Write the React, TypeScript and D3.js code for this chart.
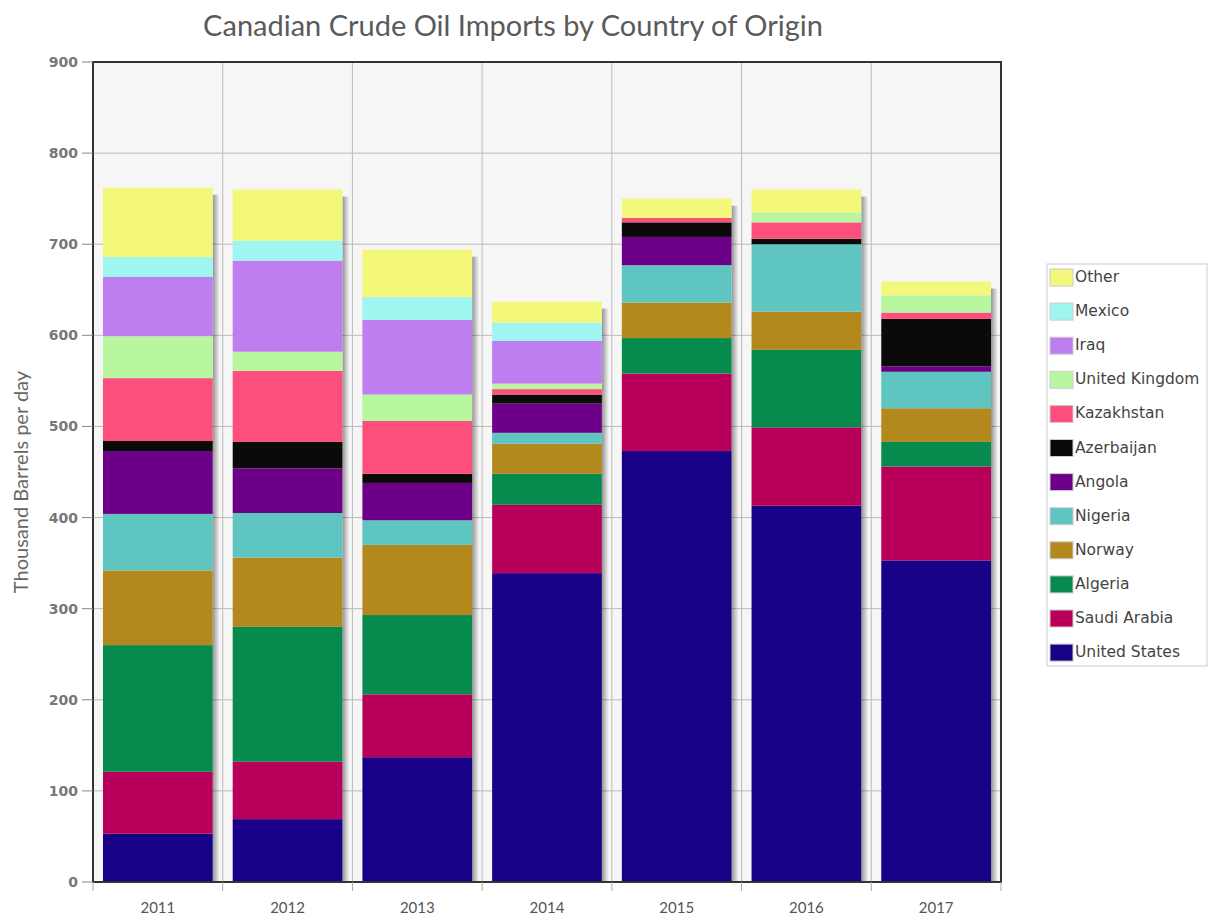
import React from "react";
import * as d3 from "d3";

const years = ["2011", "2012", "2013", "2014", "2015", "2016", "2017"];
// bottom to top stacking order
const countries = [
  "United States",
  "Saudi Arabia",
  "Algeria",
  "Norway",
  "Nigeria",
  "Angola",
  "Azerbaijan",
  "Kazakhstan",
  "United Kingdom",
  "Iraq",
  "Mexico",
  "Other",
];
const unitedStates = [53, 69, 137, 339, 473, 413, 353];
const saudiArabia = [68, 63, 69, 75, 85, 86, 103];
const algeria = [139, 148, 87, 34, 39, 85, 27];
const norway = [82, 76, 77, 33, 39, 42, 37];
const nigeria = [62, 49, 27, 12, 41, 74, 40];
const angola = [69, 49, 41, 32, 31, 0, 6];
const azerbaijan = [11, 29, 10, 10, 16, 6, 52];
const kazakhstan = [69, 78, 58, 6, 5, 18, 7];
const unitedKingdom = [46, 21, 29, 6, 0, 11, 19];
const iraq = [65, 100, 82, 47, 0, 0, 0];
const mexico = [22, 22, 25, 20, 0, 0, 0];
const other = [76, 56, 52, 23, 21, 25, 15];
const yTicks = [0, 100, 200, 300, 400, 500, 600, 700, 800, 900];

const seriesValues = [
  unitedStates, saudiArabia, algeria, norway, nigeria, angola,
  azerbaijan, kazakhstan, unitedKingdom, iraq, mexico, other,
];
const colors = [
  "#180087", "#b8005a", "#078a4e", "#b3891e", "#5ec5c0", "#6d0088",
  "#0a0a0a", "#fd4f7b", "#b8f7a0", "#bf7ef0", "#9ff5f0", "#f3f77a",
];

const rows = years.map((y, i) => {
  const r: Record<string, number | string> = { year: y };
  countries.forEach((c, k) => (r[c] = seriesValues[k][i]));
  return r;
});

const W = 1213, H = 917;
const left = 93, right = 1001, top = 62, bottom = 882;

export default function App() {
  const x = d3.scaleBand<string>().domain(years).range([left, right])
    .paddingInner(0.154).paddingOuter(0.077);
  const y = d3.scaleLinear().domain([0, 900]).range([bottom, top]);
  const stack = d3.stack<any>().keys(countries)(rows as any);
  const step = x.step();
  const bounds = d3.range(years.length + 1).map((i) => left + i * step);
  const totals = years.map((_, i) => d3.sum(seriesValues, (s) => s[i]));

  const gray = "#666";
  return (
    <div style={{ position: "absolute", left: 0, top: 0 }}>
      <svg width={W} height={H} style={{ background: "#fff" }}>
        <defs>
          <linearGradient id="shadow" x1="0" x2="1" y1="0" y2="0">
            <stop offset="0" stopColor="#000" stopOpacity={0.4} />
            <stop offset="1" stopColor="#000" stopOpacity={0} />
          </linearGradient>
        </defs>
        <text x={513} y={36} textAnchor="middle" fontFamily="Lato, sans-serif"
          fontSize={29} fill="#5a5a5a">
          Canadian Crude Oil Imports by Country of Origin
        </text>

        {/* plot background and grid */}
        <rect x={left} y={top} width={right - left} height={bottom - top} fill="#f6f6f6" />
        {yTicks.map((t) => (
          <line key={t} x1={left} x2={right} y1={y(t)} y2={y(t)} stroke="#bbb" />
        ))}
        {bounds.slice(1, -1).map((b) => (
          <line key={b} x1={b} x2={b} y1={top} y2={bottom} stroke="#bbb" />
        ))}

        {/* bar shadows */}
        {years.map((yr, i) => (
          <rect key={yr} x={x(yr)! + x.bandwidth()} y={y(totals[i]) + 7}
            width={7} height={bottom - y(totals[i]) - 7} fill="url(#shadow)" />
        ))}

        {/* stacked bars */}
        {stack.map((layer, k) => (
          <g key={countries[k]} fill={colors[k]}>
            {layer.map((d, i) => (
              <rect key={i} x={x(years[i])} y={y(d[1])}
                width={x.bandwidth()} height={Math.max(0, y(d[0]) - y(d[1]))} />
            ))}
          </g>
        ))}

        {/* frame */}
        <rect x={left} y={top} width={right - left} height={bottom - top}
          fill="none" stroke="#333" strokeWidth={2} />

        {/* y axis */}
        {yTicks.map((t) => (
          <g key={t}>
            <line x1={82} x2={left} y1={y(t)} y2={y(t)} stroke="#888" />
            <text x={78} y={y(t) + 5} textAnchor="end" fontFamily="DejaVu Sans, sans-serif"
              fontSize={14} fontWeight="bold" fill="#777">{t}</text>
          </g>
        ))}
        <text transform={`translate(28,${(top + bottom) / 2 + 10}) rotate(-90)`}
          textAnchor="middle" fontFamily="Lato, sans-serif" fontSize={20} fill={gray}>
          Thousand Barrels per day
        </text>

        {/* x axis */}
        {bounds.map((b) => (
          <line key={b} x1={b} x2={b} y1={bottom} y2={bottom + 9} stroke="#aaa" />
        ))}
        {years.map((yr) => (
          <text key={yr} x={x(yr)! + x.bandwidth() / 2} y={913} textAnchor="middle"
            fontFamily="Lato, sans-serif" fontSize={15} fill="#555">{yr}</text>
        ))}

        {/* legend */}
        <rect x={1047} y={264} width={160} height={402} fill="#fff" stroke="#ccc" />
        {countries.slice().reverse().map((c, j) => {
          const k = countries.length - 1 - j;
          const cy = 277 + j * 34.1;
          return (
            <g key={c}>
              <rect x={1050} y={cy - 8} width={23} height={17} fill={colors[k]}
                stroke="#ccc" />
              <text x={1075} y={cy + 5} fontFamily="DejaVu Sans, sans-serif"
                fontSize={15.5} fill="#444">{c}</text>
            </g>
          );
        })}
      </svg>
    </div>
  );
}
